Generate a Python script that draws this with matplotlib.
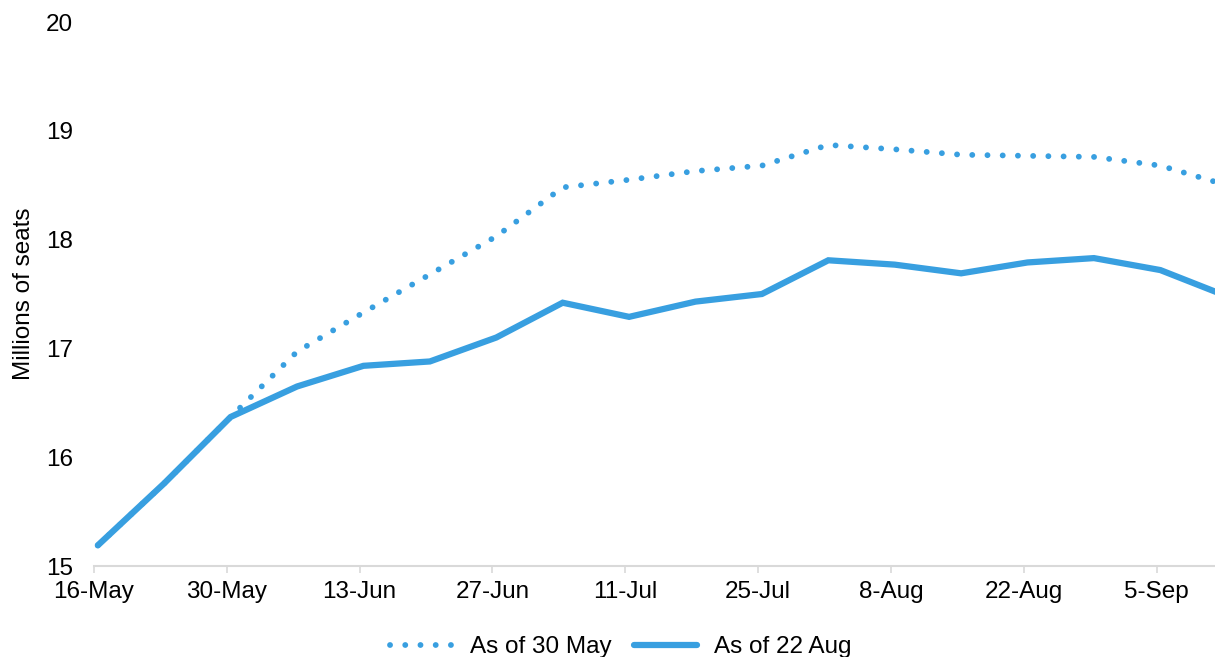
import numpy as np
import pandas as pd
import matplotlib
matplotlib.use("Agg")
import matplotlib.pyplot as plt
import matplotlib.dates as mdates

plt.rcParams['font.family'] = ['Liberation Sans', 'DejaVu Sans']

# weekly dates
dates = pd.date_range("2022-05-16", periods=18, freq="7D")

# millions of seats
as_of_30_may = [15.19, 15.76, 16.37, 16.97, 17.33, 17.68, 18.03, 18.48, 18.55,
                18.63, 18.68, 18.87, 18.83, 18.78, 18.77, 18.76, 18.68, 18.50]
as_of_22_aug = [15.19, 15.76, 16.37, 16.65, 16.84, 16.88, 17.10, 17.42, 17.29,
                17.43, 17.50, 17.81, 17.77, 17.69, 17.79, 17.83, 17.72, 17.48]

tick_dates = dates[::2]
tick_labels = ["16-May", "30-May", "13-Jun", "27-Jun", "11-Jul",
               "25-Jul", "8-Aug", "22-Aug", "5-Sep"]

blue = "#389FE0"
grey = "#D9D9D9"
fs = 17.5

fig = plt.figure(figsize=(12.15, 6.57), dpi=100)
ax = fig.add_axes([0.0774, 0.1385, 0.9226, 0.828])

# points sit a little right of the tick marks, as in the original
x = mdates.date2num(dates) + 0.4
ax.plot(x, as_of_30_may, color=blue, lw=4.2, linestyle=(0, (0.01, 2.6)),
        dash_capstyle='round', solid_capstyle='round', label="As of 30 May")
ax.plot(x, as_of_22_aug, color=blue, lw=4.5, solid_capstyle='round',
        solid_joinstyle='miter', label="As of 22 Aug")

ax.set_ylim(15, 20)
ax.set_yticks([15, 16, 17, 18, 19, 20])
start = mdates.date2num(dates[0])
ax.set_xlim(start, start + 16.88 * 7)
ax.set_xticks(tick_dates)
ax.set_xticklabels(tick_labels)

for s in ["top", "right", "left"]:
    ax.spines[s].set_visible(False)
ax.spines["bottom"].set_color(grey)
ax.spines["bottom"].set_linewidth(1.5)

ax.tick_params(axis="x", direction="out", length=5, width=1.2, color=grey,
               labelsize=fs, pad=6)
ax.tick_params(axis="y", length=0, labelsize=fs, pad=15)
ax.set_ylabel("Millions of seats", fontsize=fs, labelpad=8)

fig.legend(loc="lower center", bbox_to_anchor=(0.511, -0.035), ncol=2,
           frameon=False, fontsize=fs, handlelength=2.6, columnspacing=0.9,
           handletextpad=0.7)

fig.savefig("out.png", dpi=100)
